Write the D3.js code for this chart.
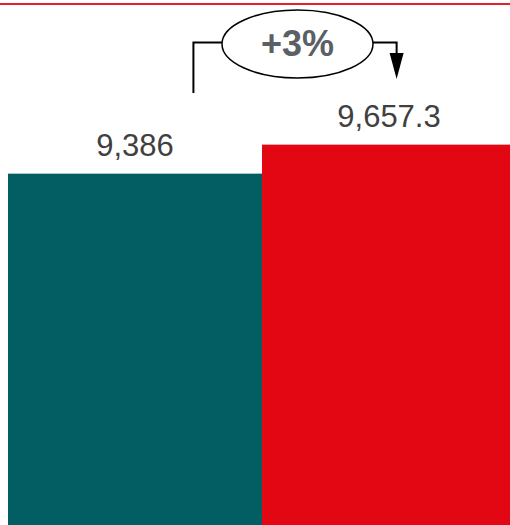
<!DOCTYPE html>
<html>
<head>
<meta charset="utf-8">
<script src="https://cdn.jsdelivr.net/npm/d3@7/dist/d3.min.js"></script>
<style>
  html, body { margin: 0; padding: 0; background: #fff; }
  svg { display: block; }
</style>
</head>
<body>
<svg id="chart" width="510" height="525"></svg>
<script>
const categories = ["A", "B"];
const values = [9386, 9657.3];
const valueLabels = ["9,386", "9,657.3"];
const barColors = ["#025e62", "#e30613"];
const changeLabel = "+3%";

const W = 510, H = 525;
const svg = d3.select("#chart");

const x = d3.scaleBand().domain(categories).range([8, 516]).padding(0);
const y = d3.scaleLinear().domain([6100, 10000]).range([H, 108]);

// top rule
svg.append("line")
  .attr("x1", 0).attr("x2", W).attr("y1", 4).attr("y2", 4)
  .attr("stroke", "#e5202c").attr("stroke-width", 2);

// bars
svg.selectAll("rect.bar").data(values).join("rect")
  .attr("class", "bar")
  .attr("x", (d, i) => x(categories[i]))
  .attr("width", x.bandwidth())
  .attr("y", d => y(d))
  .attr("height", d => H - y(d))
  .attr("fill", (d, i) => barColors[i]);

// value labels
svg.selectAll("text.val").data(values).join("text")
  .attr("class", "val")
  .attr("x", (d, i) => x(categories[i]) + x.bandwidth() / 2)
  .attr("y", d => y(d) - 18)
  .attr("text-anchor", "middle")
  .attr("font-family", "'Liberation Sans', Arial, sans-serif")
  .attr("font-size", 31)
  .attr("fill", "#404040")
  .text((d, i) => valueLabels[i]);

// change annotation
const bw = x.bandwidth();
const lx = x(categories[0]) + bw * 0.73;
const rx = x(categories[1]) + bw * 0.53;
const ecx = 297.5, ecy = 44, erx = 75.5, ery = 34;
const hy = 42.5;

svg.append("path")
  .attr("d", `M${lx},93 V${hy} H${ecx - erx}`)
  .attr("fill", "none").attr("stroke", "#000").attr("stroke-width", 2);
svg.append("path")
  .attr("d", `M${ecx + erx},${hy} H${rx} V56`)
  .attr("fill", "none").attr("stroke", "#000").attr("stroke-width", 2);
svg.append("path")
  .attr("d", `M${rx - 7},53 L${rx + 7},53 L${rx},79 Z`)
  .attr("fill", "#000");

svg.append("ellipse")
  .attr("cx", ecx).attr("cy", ecy).attr("rx", erx).attr("ry", ery)
  .attr("fill", "#fff").attr("stroke", "#000").attr("stroke-width", 1.5);

svg.append("text")
  .attr("x", ecx).attr("y", 56)
  .attr("text-anchor", "middle")
  .attr("font-family", "'Liberation Sans', Arial, sans-serif")
  .attr("font-weight", "bold")
  .attr("font-size", 36)
  .attr("fill", "#596066")
  .text(changeLabel);
</script>
</body>
</html>
